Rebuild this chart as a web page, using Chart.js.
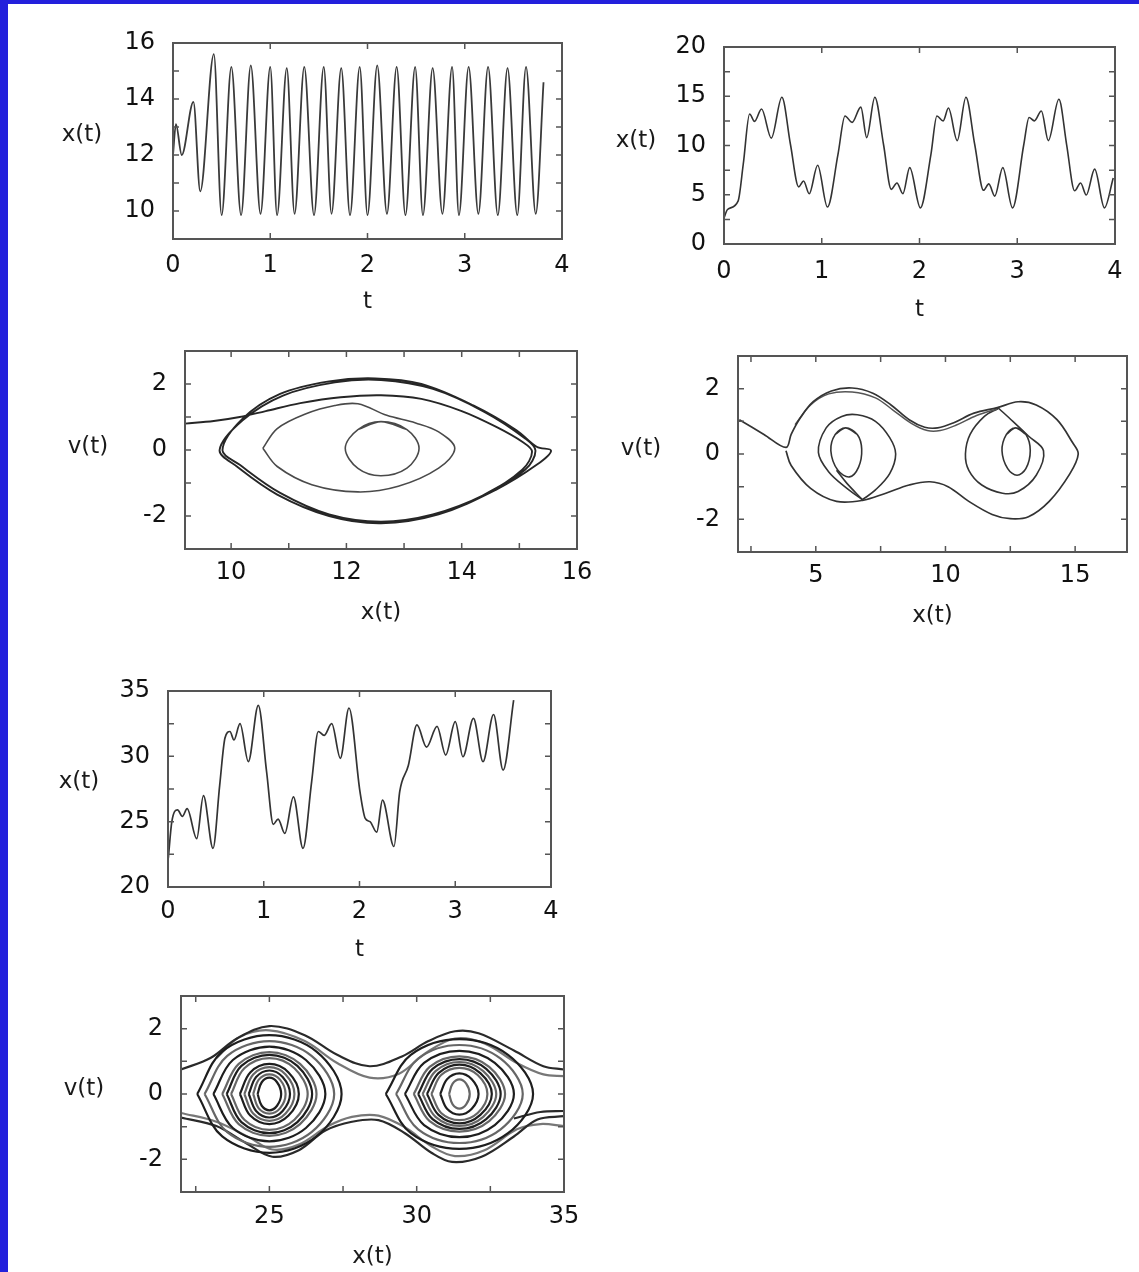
<!DOCTYPE html>
<html><head><meta charset="utf-8">
<script src="https://cdn.jsdelivr.net/npm/chart.js@4.4.0/dist/chart.umd.min.js"></script>
<style>
html,body{margin:0;padding:0;background:#fff;}
body{width:1139px;height:1272px;position:relative;overflow:hidden;font-family:"DejaVu Sans",Arial,sans-serif;}
.edgeL{position:absolute;left:0;top:0;width:8px;height:1272px;background:#2320dc;}
.edgeT{position:absolute;left:0;top:0;width:1139px;height:4px;background:#2320dc;}
canvas{position:absolute;}
.ylab{position:absolute;transform:translate(-50%,-50%);font-size:23px;color:#1a1a1a;white-space:nowrap;font-family:"DejaVu Sans",Arial,sans-serif;}
</style></head><body>
<div class="edgeL"></div><div class="edgeT"></div>
<script>
// ---------- Panel 1 : x(t) vs t ----------
const P1_T = [0, 0.03, 0.09, 0.21, 0.28, 0.42, 0.50, 0.60, 0.70, 0.80, 0.90, 1.00, 1.07, 1.17, 1.25, 1.35, 1.45, 1.55, 1.63, 1.73, 1.82, 1.92, 2.00, 2.10, 2.20, 2.30, 2.39, 2.49, 2.57, 2.67, 2.77, 2.87, 2.94, 3.04, 3.14, 3.24, 3.34, 3.44, 3.54, 3.63, 3.73, 3.81];
const P1_X = [12.0, 13.1, 12.0, 13.9, 10.7, 15.6, 9.85, 15.15, 9.85, 15.2, 9.9, 15.15, 9.85, 15.1, 9.9, 15.15, 9.85, 15.15, 9.9, 15.1, 9.85, 15.15, 9.85, 15.2, 9.9, 15.15, 9.85, 15.15, 9.85, 15.1, 9.9, 15.15, 9.85, 15.15, 9.9, 15.15, 9.85, 15.1, 9.85, 15.15, 9.9, 14.6];
const P1_XTICKS = [0, 1, 2, 3, 4];
const P1_YTICKS = [10, 12, 14, 16];
const P1_XMARKS = [1, 2, 3];
const P1_YMARKS = [10, 11, 12, 13, 14, 15];

// ---------- Panel 2 : x(t) vs t ----------
const P2_T = [0, 0.036, 0.144, 0.197, 0.262, 0.312, 0.384, 0.484, 0.592, 0.68, 0.764, 0.814, 0.872, 0.958, 1.058, 1.166, 1.238, 1.31, 1.40, 1.46, 1.543, 1.632, 1.711, 1.769, 1.83, 1.90, 2.009, 2.117, 2.178, 2.242, 2.296, 2.386, 2.475, 2.565, 2.655, 2.709, 2.77, 2.852, 2.952, 3.067, 3.121, 3.175, 3.247, 3.318, 3.426, 3.505, 3.587, 3.648, 3.706, 3.792, 3.892, 3.982];
const P2_X = [2.65, 3.5, 4.35, 8.1, 13.2, 12.45, 13.7, 10.75, 14.9, 10.1, 5.8, 6.4, 5.1, 8.0, 3.75, 9.1, 13.0, 12.35, 13.9, 10.8, 14.9, 10.1, 5.55, 6.2, 5.1, 7.75, 3.67, 9.1, 13.0, 12.5, 13.8, 10.5, 14.9, 10.1, 5.45, 6.1, 4.86, 7.75, 3.67, 10.1, 12.85, 12.5, 13.5, 10.5, 14.7, 10.1, 5.4, 6.2, 4.97, 7.6, 3.67, 6.7];
const P2_XTICKS = [0, 1, 2, 3, 4];
const P2_YTICKS = [0, 5, 10, 15, 20];
const P2_XMARKS = [1, 2, 3];
const P2_YMARKS = [2.5, 5, 7.5, 10, 12.5, 15, 17.5];

// ---------- Panel 3 : v(t) vs x(t) ----------
const P3_OUTER = [[9.2,0.8],[9.7,0.88],[10.15,1.0],[10.6,1.18],[11.2,1.42],[11.9,1.6],[12.6,1.66],[13.3,1.55],[14.0,1.18],[14.6,0.7],[15.05,0.25],[15.22,-0.05],[15.05,-0.6],[14.4,-1.35],[13.5,-1.95],[12.6,-2.17],[11.7,-1.95],[10.85,-1.3],[10.15,-0.45],[9.85,0],[10.2,0.95],[10.85,1.7],[11.7,2.08],[12.5,2.17],[13.3,2.0],[14.2,1.35],[14.95,0.6],[15.3,0.1],[15.55,-0.02],[15.3,-0.45],[14.6,-1.2],[13.6,-1.95],[12.6,-2.22],[11.7,-2.0],[10.8,-1.35],[10.1,-0.5],[9.8,0],[10.2,0.9],[10.9,1.65],[11.8,2.05],[12.6,2.12],[13.5,1.85],[14.4,1.15],[15.1,0.35],[15.28,-0.02],[15.1,-0.6],[14.3,-1.45]];
const P3_MIDDLE = [[10.55,0.05],[10.8,0.65],[11.3,1.1],[11.8,1.35],[12.2,1.4],[12.7,1.05],[13.2,0.82],[13.6,0.55],[13.88,0.05],[13.6,-0.55],[12.9,-1.1],[12.2,-1.27],[11.4,-1.05],[10.8,-0.5],[10.55,0.05]];
const P3_INNER = [[12.2,0.62],[12.6,0.86],[13.05,0.62],[13.26,0.05],[13.05,-0.55],[12.6,-0.78],[12.2,-0.56],[11.98,0.05],[12.2,0.62],[12.6,0.86],[13.05,0.62]];
const P3_XTICKS = [10, 12, 14, 16];
const P3_YTICKS = [-2, 0, 2];
const P3_XMARKS = [10, 11, 12, 13, 14, 15];
const P3_YMARKS = [-2, -1, 0, 1, 2];

// ---------- Panel 4 : v(t) vs x(t) ----------
const P4_OUTER = [[2.05,1.05],[3.0,0.6],[3.85,0.2],[4.05,0.6],[4.4,1.1],[4.9,1.6],[5.6,1.93],[6.4,2.02],[7.2,1.86],[7.9,1.5],[8.6,1.05],[9.2,0.82],[9.7,0.8],[10.3,0.95],[11.1,1.25],[12.0,1.42],[12.8,1.6],[13.5,1.5],[14.3,1.05],[14.9,0.35],[15.12,0.0],[14.8,-0.6],[14.0,-1.45],[13.2,-1.92],[12.5,-1.98],[11.8,-1.85],[10.9,-1.45],[10.1,-1.0],[9.4,-0.85],[8.6,-0.95],[7.7,-1.2],[6.8,-1.42],[5.8,-1.45],[4.8,-1.05],[4.05,-0.35],[3.85,0.1]];
const P4_TOP2 = [[4.2,0.9],[4.8,1.5],[5.5,1.84],[6.4,1.9],[7.3,1.72],[8.0,1.33],[8.7,0.93],[9.3,0.72],[9.8,0.72],[10.4,0.88],[11.2,1.18],[12.0,1.38]];
const P4_LMID = [[6.8,-1.4],[6.2,-1.05],[5.5,-0.55],[5.1,0.05],[5.4,0.8],[6.0,1.15],[6.6,1.2],[7.3,1.0],[7.85,0.5],[8.08,0.0],[7.85,-0.6],[7.3,-1.1],[6.8,-1.4]];
const P4_LIN = [[5.75,0.6],[6.15,0.8],[6.6,0.6],[6.77,0.15],[6.65,-0.4],[6.3,-0.7],[5.85,-0.5],[5.58,0.1],[5.75,0.6],[6.15,0.8],[6.6,0.6]];
const P4_LLINK = [[5.8,-0.5],[6.2,-0.9],[6.8,-1.4]];
const P4_RMID = [[12.05,1.4],[12.6,1.0],[13.2,0.55],[13.78,0.1],[13.5,-0.65],[12.8,-1.15],[12.2,-1.2],[11.4,-0.95],[10.9,-0.5],[10.77,0.0],[10.95,0.6],[11.5,1.15],[12.05,1.4]];
const P4_RIN = [[12.35,0.6],[12.7,0.8],[13.1,0.6],[13.27,0.1],[13.1,-0.45],[12.76,-0.65],[12.4,-0.45],[12.18,0.1],[12.35,0.6],[12.7,0.8],[13.1,0.6]];
const P4_XTICKS = [5, 10, 15];
const P4_YTICKS = [-2, 0, 2];
const P4_XMARKS = [2.5, 5, 7.5, 10, 12.5, 15];
const P4_YMARKS = [-2, -1, 0, 1, 2];

// ---------- Panel 5 : x(t) vs t ----------
const P5_T = [0.003, 0.04, 0.10, 0.15, 0.20, 0.30, 0.37, 0.47, 0.54, 0.595, 0.647, 0.689, 0.752, 0.839, 0.943, 1.03, 1.10, 1.15, 1.22, 1.31, 1.41, 1.50, 1.57, 1.63, 1.71, 1.80, 1.89, 2.005, 2.06, 2.11, 2.18, 2.24, 2.36, 2.42, 2.51, 2.60, 2.70, 2.81, 2.90, 3.00, 3.08, 3.19, 3.29, 3.40, 3.50, 3.61];
const P5_X = [22.2, 25.0, 25.9, 25.4, 26.0, 23.7, 27.0, 22.96, 27.8, 31.4, 31.9, 31.25, 32.5, 29.6, 33.9, 28.8, 24.8, 25.2, 24.1, 26.9, 22.96, 28.05, 31.9, 31.6, 32.5, 29.85, 33.7, 27.3, 25.25, 25.0, 24.2, 26.65, 23.1, 27.3, 29.3, 32.4, 30.7, 32.3, 30.1, 32.65, 29.97, 32.9, 29.6, 33.2, 28.95, 34.3];
const P5_XTICKS = [0, 1, 2, 3, 4];
const P5_YTICKS = [20, 25, 30, 35];
const P5_XMARKS = [1, 2, 3];
const P5_YMARKS = [22.5, 25, 27.5, 30, 32.5];

// ---------- Panel 6 : v(t) vs x(t) ----------
const P6_LEFT_LOOPS = [
  [[24.6,0],[24.74,0.36],[25,0.5],[25.26,0.36],[25.4,0],[25.26,-0.36],[25,-0.5],[24.74,-0.36],[24.6,0]],
  [[24.45,0],[24.64,0.44],[25,0.6],[25.36,0.44],[25.55,0],[25.36,-0.44],[25,-0.6],[24.64,-0.44],[24.45,0]],
  [[24.3,0],[24.55,0.52],[25,0.72],[25.45,0.52],[25.7,0],[25.45,-0.52],[25,-0.72],[24.55,-0.52],[24.3,0]],
  [[24.15,0],[24.45,0.6],[25,0.82],[25.55,0.6],[25.85,0],[25.55,-0.6],[25,-0.82],[24.45,-0.6],[24.15,0]],
  [[24.0,0],[24.35,0.66],[25,0.92],[25.65,0.66],[26.0,0],[25.65,-0.66],[25,-0.92],[24.35,-0.66],[24.0,0]],
  [[23.7,0],[24.15,0.79],[25,1.1],[25.85,0.79],[26.3,0],[25.85,-0.79],[25,-1.1],[24.15,-0.79],[23.7,0]],
  [[23.55,0],[24.05,0.86],[25,1.2],[25.95,0.86],[26.45,0],[25.95,-0.86],[25,-1.2],[24.05,-0.86],[23.55,0]],
  [[23.4,0],[23.96,0.92],[25,1.28],[26.04,0.92],[26.6,0],[26.04,-0.92],[25,-1.28],[23.96,-0.92],[23.4,0]],
  [[23.1,0],[23.76,1.04],[25,1.45],[26.24,1.04],[26.9,0],[26.24,-1.04],[25,-1.45],[23.76,-1.04],[23.1,0]],
  [[22.8,0],[23.57,1.17],[25,1.62],[26.43,1.17],[27.2,0],[26.43,-1.17],[25,-1.62],[23.57,-1.17],[22.8,0]],
  [[22.55,0],[23.4,1.3],[25,1.8],[26.6,1.3],[27.45,0],[26.6,-1.3],[25,-1.8],[23.4,-1.3],[22.55,0]]
];
const P6_RIGHT_LOOPS = [
  [[31.1,0],[31.22,0.32],[31.45,0.45],[31.68,0.32],[31.8,0],[31.68,-0.32],[31.45,-0.45],[31.22,-0.32],[31.1,0]],
  [[30.8,0],[31.03,0.45],[31.45,0.63],[31.87,0.45],[32.1,0],[31.87,-0.45],[31.45,-0.63],[31.03,-0.45],[30.8,0]],
  [[30.5,0],[30.83,0.58],[31.45,0.8],[32.07,0.58],[32.4,0],[32.07,-0.58],[31.45,-0.8],[30.83,-0.58],[30.5,0]],
  [[30.35,0],[30.74,0.64],[31.45,0.9],[32.16,0.64],[32.55,0],[32.16,-0.64],[31.45,-0.9],[30.74,-0.64],[30.35,0]],
  [[30.2,0],[30.64,0.7],[31.45,0.98],[32.26,0.7],[32.7,0],[32.26,-0.7],[31.45,-0.98],[30.64,-0.7],[30.2,0]],
  [[30.05,0],[30.54,0.77],[31.45,1.07],[32.36,0.77],[32.85,0],[32.36,-0.77],[31.45,-1.07],[30.54,-0.77],[30.05,0]],
  [[29.9,0],[30.44,0.83],[31.45,1.15],[32.46,0.83],[33.0,0],[32.46,-0.83],[31.45,-1.15],[30.44,-0.83],[29.9,0]],
  [[29.6,0],[30.25,0.95],[31.45,1.32],[32.65,0.95],[33.3,0],[32.65,-0.95],[31.45,-1.32],[30.25,-0.95],[29.6,0]],
  [[29.3,0],[30.05,1.08],[31.45,1.5],[32.85,1.08],[33.6,0],[32.85,-1.08],[31.45,-1.5],[30.05,-1.08],[29.3,0]],
  [[28.95,0],[29.8,1.2],[31.45,1.68],[33.1,1.2],[33.95,0],[33.1,-1.2],[31.45,-1.68],[29.8,-1.2],[28.95,0]]
];
const P6_BANDS = [
  [[22,0.75],[23.0,1.1],[23.9,1.7],[25.0,2.08],[26.2,1.8],[27.3,1.2],[28.4,0.85],[29.5,1.15],[30.4,1.62],[31.3,1.92],[32.1,1.86],[33.3,1.33],[34.3,0.85],[35,0.75]],
  [[23.2,1.1],[24.0,1.75],[25.0,1.95],[26.2,1.62],[27.3,0.95],[28.4,0.5],[29.4,0.62],[30.3,1.25],[31.3,1.7],[32.3,1.55],[33.4,0.95],[34.3,0.6],[35,0.55]],
  [[22,-0.72],[23.2,-0.98],[24.2,-1.5],[25.1,-1.92],[26.0,-1.72],[26.9,-1.12],[27.8,-0.85],[28.7,-0.8],[29.6,-1.2],[30.5,-1.8],[31.2,-2.08],[32.2,-1.92],[33.3,-1.3],[34.1,-0.78],[35,-0.68]],
  [[22,-0.58],[23.2,-0.85],[24.3,-1.32],[25.1,-1.7],[26.0,-1.55],[27.0,-0.98],[27.8,-0.7],[28.7,-0.66],[29.6,-1.02],[30.5,-1.6],[31.3,-1.9],[32.3,-1.72],[33.4,-1.08],[34.2,-0.92],[35,-0.98]],
  [[33.3,-0.75],[34.2,-0.55],[35,-0.52]]
];
const P6_XTICKS = [25, 30, 35];
const P6_YTICKS = [-2, 0, 2];
const P6_XMARKS = [22.5, 25, 27.5, 30, 32.5];
const P6_YMARKS = [-2, -1, 0, 1, 2];

// ---------- drawing ----------
const YW = 100, PR = 30, PT = 20, XH = 80;
const FONT = '"DejaVu Sans", Arial, sans-serif';

const framePlugin = {
  id: 'frame',
  afterDatasetsDraw(chart, args, opts) {
    const {ctx, chartArea: a, scales} = chart;
    ctx.save();
    ctx.strokeStyle = '#555';
    ctx.lineWidth = 2;
    ctx.strokeRect(a.left, a.top, a.right - a.left, a.bottom - a.top);
    ctx.lineWidth = 1.5;
    ctx.beginPath();
    (opts.xMarks || []).forEach(v => {
      const p = scales.x.getPixelForValue(v);
      ctx.moveTo(p, a.bottom); ctx.lineTo(p, a.bottom - 6);
      ctx.moveTo(p, a.top); ctx.lineTo(p, a.top + 6);
    });
    (opts.yMarks || []).forEach(v => {
      const p = scales.y.getPixelForValue(v);
      ctx.moveTo(a.left, p); ctx.lineTo(a.left + 6, p);
      ctx.moveTo(a.right, p); ctx.lineTo(a.right - 6, p);
    });
    ctx.stroke();
    ctx.restore();
  }
};

function pairs(T, X) { return T.map((t, i) => [t, X[i]]); }

function makePanel(p) {
  const W = (p.r - p.l) + YW + PR, H = PT + (p.b - p.t) + XH;
  const cv = document.createElement('canvas');
  cv.width = W; cv.height = H;
  cv.style.left = (p.l - YW) + 'px'; cv.style.top = (p.t - PT) + 'px';
  cv.style.width = W + 'px'; cv.style.height = H + 'px';
  document.body.appendChild(cv);
  const lab = document.createElement('div');
  lab.className = 'ylab'; lab.textContent = p.yTitle;
  lab.style.left = p.yTitleX + 'px'; lab.style.top = p.yTitleY + 'px';
  document.body.appendChild(lab);

  const datasets = p.series.map(s => ({
    data: s.pts.map(([x, y]) => ({x, y})),
    showLine: true, pointRadius: 0, borderColor: s.color, borderWidth: s.width,
    fill: false, tension: p.monotone ? 0 : 0.35,
    cubicInterpolationMode: p.monotone ? 'monotone' : 'default'
  }));

  new Chart(cv, {
    type: 'scatter',
    data: {datasets},
    plugins: [framePlugin],
    options: {
      responsive: false, animation: false, events: [], devicePixelRatio: 1,
      layout: {padding: {left: 0, top: PT, right: PR, bottom: 0}},
      plugins: {legend: {display: false}, tooltip: {enabled: false}, frame: {xMarks: p.xMarks, yMarks: p.yMarks}},
      scales: {
        x: {
          type: 'linear', position: 'bottom', min: p.xMin, max: p.xMax,
          grid: {display: false, drawTicks: false}, border: {display: false},
          ticks: {font: {family: FONT, size: 24}, color: '#111', padding: p.tickPad, autoSkip: false, maxRotation: 0},
          afterBuildTicks: s => { s.ticks = p.xTicks.map(v => ({value: v})); },
          afterFit: s => { s.height = XH; s.paddingLeft = 0; s.paddingRight = 0; },
          title: {display: true, text: p.xTitle, font: {family: FONT, size: 23}, color: '#1a1a1a', padding: {top: 0, bottom: p.titlePadB}}
        },
        y: {
          type: 'linear', position: 'left', min: p.yMin, max: p.yMax,
          grid: {display: false, drawTicks: false}, border: {display: false},
          ticks: {font: {family: FONT, size: 24}, color: '#111', padding: 18, autoSkip: false},
          afterBuildTicks: s => { s.ticks = p.yTicks.map(v => ({value: v})); },
          afterFit: s => { s.width = YW; s.paddingTop = 0; s.paddingBottom = 0; }
        }
      }
    }
  });
}

makePanel({l:173, r:562, t:43, b:239, xMin:0, xMax:4, yMin:9, yMax:16,
  xTicks:P1_XTICKS, yTicks:P1_YTICKS, xMarks:P1_XMARKS, yMarks:P1_YMARKS,
  xTitle:'t', yTitle:'x(t)', yTitleX:82, yTitleY:133, tickPad:12.6, titlePadB:3.2, monotone:true,
  series:[{pts:pairs(P1_T, P1_X), color:'#3a3a3a', width:1.8}]});

makePanel({l:724, r:1115, t:47, b:244, xMin:0, xMax:4, yMin:0, yMax:20,
  xTicks:P2_XTICKS, yTicks:P2_YTICKS, xMarks:P2_XMARKS, yMarks:P2_YMARKS,
  xTitle:'t', yTitle:'x(t)', yTitleX:636, yTitleY:139, tickPad:13.3, titlePadB:0.2, monotone:true,
  series:[{pts:pairs(P2_T, P2_X), color:'#333', width:1.6}]});

makePanel({l:185, r:577, t:351, b:549, xMin:9.2, xMax:16, yMin:-3, yMax:3,
  xTicks:P3_XTICKS, yTicks:P3_YTICKS, xMarks:P3_XMARKS, yMarks:P3_YMARKS,
  xTitle:'x(t)', yTitle:'v(t)', yTitleX:88, yTitleY:445, tickPad:9.6, titlePadB:2.2, monotone:false,
  series:[{pts:P3_OUTER, color:'#262626', width:1.9},{pts:P3_MIDDLE, color:'#4a4a4a', width:1.6},{pts:P3_INNER, color:'#4a4a4a', width:1.6}]});

makePanel({l:738, r:1127, t:356, b:552, xMin:2, xMax:17, yMin:-3, yMax:3,
  xTicks:P4_XTICKS, yTicks:P4_YTICKS, xMarks:P4_XMARKS, yMarks:P4_YMARKS,
  xTitle:'x(t)', yTitle:'v(t)', yTitleX:641, yTitleY:447, tickPad:9.3, titlePadB:2.2, monotone:false,
  series:[{pts:P4_OUTER, color:'#333', width:1.7},{pts:P4_TOP2, color:'#555', width:1.5},{pts:P4_LMID, color:'#333', width:1.6},
          {pts:P4_LIN, color:'#333', width:1.6},{pts:P4_LLINK, color:'#333', width:1.6},{pts:P4_RMID, color:'#333', width:1.6},{pts:P4_RIN, color:'#333', width:1.6}]});

makePanel({l:168, r:551, t:691, b:887, xMin:0, xMax:4, yMin:20, yMax:35,
  xTicks:P5_XTICKS, yTicks:P5_YTICKS, xMarks:P5_XMARKS, yMarks:P5_YMARKS,
  xTitle:'t', yTitle:'x(t)', yTitleX:79, yTitleY:780, tickPad:10.6, titlePadB:3.2, monotone:true,
  series:[{pts:pairs(P5_T, P5_X), color:'#333', width:1.7}]});

const p6series = [];
P6_LEFT_LOOPS.forEach((pts, i) => p6series.push({pts, color: i % 2 ? '#666' : '#1e1e1e', width: 2.2}));
P6_RIGHT_LOOPS.forEach((pts, i) => p6series.push({pts, color: i % 2 ? '#1e1e1e' : '#666', width: 2.2}));
P6_BANDS.forEach((pts, i) => p6series.push({pts, color: i % 2 ? '#777' : '#2a2a2a', width: 2.2}));
makePanel({l:181, r:564, t:996, b:1192, xMin:22, xMax:35, yMin:-3, yMax:3,
  xTicks:P6_XTICKS, yTicks:P6_YTICKS, xMarks:P6_XMARKS, yMarks:P6_YMARKS,
  xTitle:'x(t)', yTitle:'v(t)', yTitleX:84, yTitleY:1087, tickPad:10.3, titlePadB:1.2, monotone:false,
  series:p6series});
</script>
</body></html>
